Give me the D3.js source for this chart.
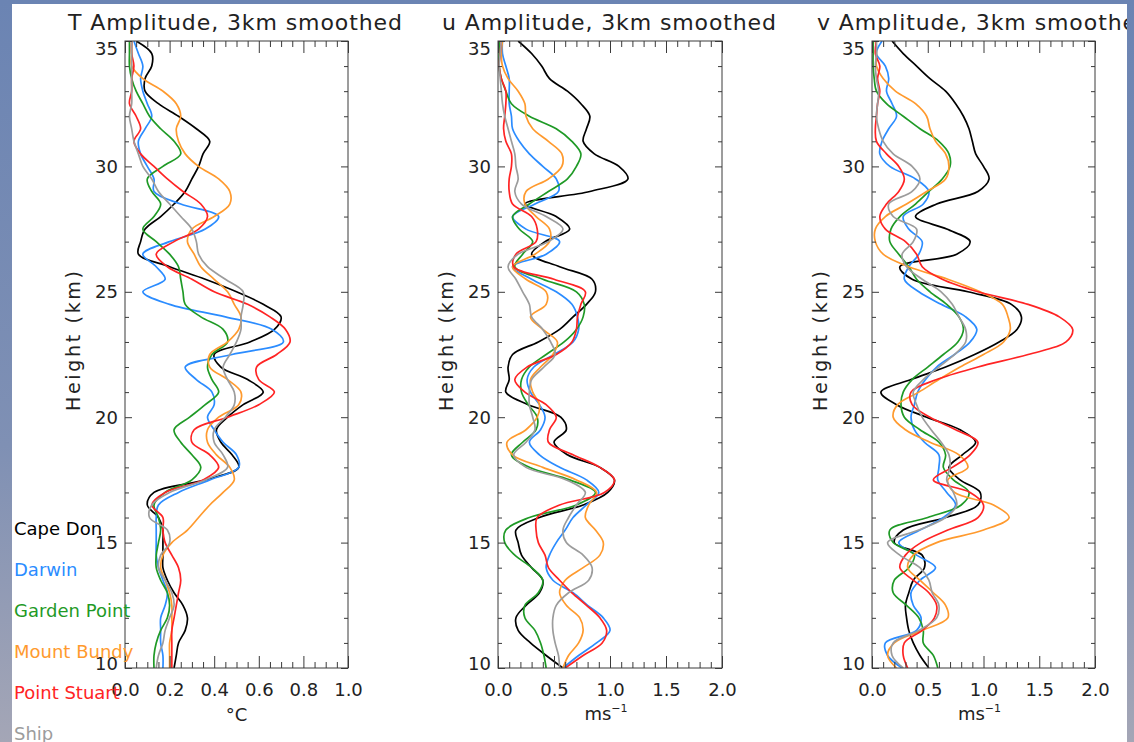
<!DOCTYPE html>
<html><head><meta charset="utf-8">
<script src="https://cdn.jsdelivr.net/npm/d3@7"></script>
<style>html,body{margin:0;padding:0;background:#7088b4;} svg{display:block}</style>
</head><body><svg id="c" width="1134" height="742"></svg>
<script>
// ---------------- DATA ----------------
const heights = [35,34.5,34,33.5,33,32.5,32,31.5,31,30.5,30,29.5,29,28.5,28,27.5,27,26.5,26,25.5,25,24.5,24,23.5,23,22.5,22,21.5,21,20.5,20,19.5,19,18.5,18,17.5,17,16.5,16,15.5,15,14.5,14,13.5,13,12.5,12,11.5,11,10.5,10];
const stations = ["Cape Don","Darwin","Garden Point","Mount Bundy","Point Stuart","Ship"];
const stationColors = ["#000000","#2b8cff","#1f9a26","#ff9a2e","#ff2424","#9c9c9c"];

// T amplitude (°C)
const tCapeDon     = [.05,.12,.12,.09,.09, .15,.24,.32,.38,.35, .33,.30,.27,.22,.16, .09,.07,.06,.20,.36, .50,.62,.70,.67,.56, .40,.43,.55,.62,.53, .46,.41,.43,.48,.51, .36,.13,.10,.15,.17, .17,.17,.17,.19,.22, .26,.28,.27,.24,.23, .22];
const tDarwin      = [.04,.06,.08,.07,.08, .10,.12,.09,.06,.07, .10,.13,.13,.25,.42, .36,.20,.08,.14,.18, .08,.20,.45,.66,.71, .48,.27,.32,.39,.40, .37,.40,.44,.50,.51, .38,.24,.15,.14,.14, .14,.14,.15,.17,.19, .18,.16,.16,.16,.17, .17];
const tGardenPoint = [.02,.02,.02,.03,.05, .08,.11,.16,.22,.25, .17,.10,.12,.16,.13, .08,.14,.20,.24,.25, .26,.27,.34,.44,.46, .39,.37,.39,.42,.36, .29,.22,.25,.30,.34, .30,.18,.13,.15,.16, .15,.14,.14,.16,.19, .20,.19,.16,.14,.13, .13];
const tMountBundy  = [.03,.03,.03,.08,.17, .23,.25,.23,.24,.27, .33,.42,.47,.47,.40, .30,.28,.31,.34,.40, .46,.49,.52,.51,.46, .38,.38,.46,.52,.51, .42,.37,.37,.41,.47, .49,.44,.38,.33,.28, .21,.17,.16,.18,.20, .21,.21,.21,.20,.20, .20];
const tPointStuart = [.03,.03,.04,.03,.03, .02,.05,.07,.04,.07, .13,.19,.26,.34,.37, .33,.22,.14,.19,.30, .40,.55,.65,.72,.74, .68,.59,.60,.67,.60, .46,.31,.30,.38,.42, .35,.18,.12,.17,.17, .18,.21,.24,.25,.24, .23,.22,.21,.21,.21, .21];
const tShip        = [.03,.03,.03,.03,.03, .03,.02,.03,.04,.06, .08,.12,.15,.20,.25, .30,.32,.33,.37,.45, .53,.53,.52,.52,.50, .47,.44,.46,.49,.49, .45,.40,.40,.44,.46, .36,.20,.12,.11,.19, .20,.16,.15,.18,.21, .22,.20,.18,.17,.15, .14];

// u amplitude (m/s)
const uCapeDon     = [.18,.30,.39,.46,.62, .74,.82,.79,.76,.86, 1.08,1.16,.82,.24,.52, .64,.42,.30,.55,.84, .87,.79,.67,.55,.36, .13,.09,.10,.07,.27, .56,.61,.50,.62,.91, 1.04,.98,.76,.37,.16, .18,.21,.30,.40,.37, .25,.16,.18,.29,.43, .58];
const uDarwin      = [.04,.04,.07,.10,.10, .10,.12,.13,.19,.28, .40,.52,.54,.33,.13, .25,.55,.43,.13,.30, .52,.66,.71,.72,.67, .50,.32,.26,.29,.37, .42,.38,.28,.37,.55, .79,.90,.79,.67,.60, .52,.46,.43,.49,.67, .80,.94,1.00,.88,.72, .58];
const uGardenPoint = [.01,.01,.01,.03,.07, .12,.28,.52,.66,.74, .70,.62,.45,.28,.13, .19,.31,.22,.15,.40, .70,.77,.76,.70,.59, .43,.28,.21,.21,.27, .35,.34,.22,.12,.28, .64,.87,.70,.28,.07, .06,.15,.30,.40,.36, .24,.24,.33,.38,.41, .43];
const uMountBundy  = [.04,.03,.04,.09,.18, .24,.25,.31,.45,.57, .57,.45,.25,.24,.34, .46,.46,.33,.13,.25, .43,.43,.29,.40,.53, .49,.38,.29,.31,.37, .35,.25,.08,.13,.40, .70,.88,.81,.78,.87, .94,.91,.76,.60,.55, .61,.73,.76,.72,.63, .58];
const uPointStuart = [.03,.02,.01,.03,.07, .07,.06,.05,.07,.12, .12,.10,.10,.13,.30, .35,.34,.16,.14,.50, .78,.74,.71,.70,.66, .52,.26,.15,.24,.43, .52,.46,.45,.67,.91, 1.04,.95,.55,.35,.34, .36,.42,.45,.55,.66, .79,.91,.97,.93,.76, .60];
const uShip        = [.03,.02,.01,.02,.03, .04,.06,.09,.12,.15, .16,.18,.15,.21,.43, .58,.45,.18,.09,.16, .22,.28,.30,.40,.47, .51,.41,.30,.28,.28, .31,.33,.25,.14,.25, .61,.78,.70,.63,.58, .61,.76,.84,.81,.63, .52,.49,.49,.51,.54, .55];

// v amplitude (m/s)
const vCapeDon     = [.18,.28,.40,.52,.66, .75,.82,.87,.90,.93, 1.00,1.05,.95,.58,.39, .67,.88,.76,.25,.36, .86,1.25,1.34,1.30,1.14, .92,.66,.35,.08,.22, .49,.79,.93,.81,.69, .79,.97,.95,.66,.28, .20,.45,.47,.37,.33, .30,.31,.33,.37,.43, .51];
const vDarwin      = [.09,.04,.12,.15,.13, .18,.22,.15,.09,.07, .16,.39,.51,.46,.28, .33,.45,.42,.33,.29, .42,.62,.84,.94,.88, .74,.58,.48,.41,.38, .35,.38,.47,.60,.60, .59,.67,.75,.64,.43, .24,.40,.57,.43,.35, .37,.44,.40,.12,.14, .27];
const vGardenPoint = [.01,.01,.01,.02,.04, .13,.28,.43,.60,.69, .70,.63,.51,.39,.25, .17,.16,.24,.33,.40, .52,.67,.78,.82,.77, .64,.50,.36,.28,.26, .29,.43,.60,.66,.64, .73,.87,.80,.50,.16, .19,.38,.33,.20,.19, .31,.42,.46,.46,.55, .59];
const vMountBundy  = [.03,.04,.04,.10,.21, .39,.49,.52,.57,.66, .69,.66,.49,.31,.12, .03,.03,.10,.33,.68, .97,1.17,1.22,1.24,1.18, 1.00,.79,.60,.42,.23, .19,.30,.52,.78,.86, .68,.74,1.09,1.23,1.00, .58,.37,.32,.43,.55, .66,.68,.45,.20,.14, .22];
const vPointStuart = [.04,.03,.07,.05,.07, .05,.04,.03,.04,.13, .24,.29,.24,.13,.07, .12,.30,.40,.45,.63, .95,1.40,1.68,1.80,1.74, 1.40,.95,.58,.35,.36, .52,.75,.95,.88,.72, .55,.88,1.00,.95,.68, .44,.30,.25,.37,.51, .58,.56,.45,.29,.28, .32];
const vShip        = [.04,.04,.03,.04,.06, .05,.04,.06,.10,.19, .36,.43,.36,.15,.19, .40,.37,.27,.31,.45, .62,.72,.78,.84,.84, .74,.60,.46,.37,.40, .45,.53,.62,.69,.70, .67,.73,.76,.66,.42, .14,.25,.43,.51,.54, .60,.58,.42,.19,.18, .28];

const panelTitles = ["T Amplitude, 3km smoothed","u Amplitude, 3km smoothed","v Amplitude, 3km smoothed"];
const tTicks = [0.0,0.2,0.4,0.6,0.8,1.0];
const windTicks = [0.0,0.5,1.0,1.5,2.0];
const heightTicks = [10,15,20,25,30,35];
const heightLabel = "Height (km)";

// ---------------- DRAW ----------------
const W = 1134, H = 742;
const svg = d3.select("#c");
const defs = svg.append("defs");
const grad = defs.append("linearGradient").attr("id","bg").attr("x1",0).attr("y1",0).attr("x2",0).attr("y2",1);
grad.append("stop").attr("offset","0%").attr("stop-color","#6b84b3");
grad.append("stop").attr("offset","60%").attr("stop-color","#7f90b4");
grad.append("stop").attr("offset","100%").attr("stop-color","#a4a6b6");
svg.append("rect").attr("width",W).attr("height",H).attr("fill","url(#bg)");

defs.append("clipPath").attr("id","pageclip").append("rect")
  .attr("x",12).attr("y",4).attr("width",1115).attr("height",738);
const page = svg.append("g").attr("clip-path","url(#pageclip)");
page.append("rect").attr("x",12).attr("y",4).attr("width",1115).attr("height",738).attr("fill","#ffffff");

const FONT = "'DejaVu Sans', sans-serif";
const INK = "#222";
const AX = "#3a3a3a";
const plotTop = 41, plotBottom = 668;
const y = d3.scaleLinear().domain([10,35]).range([plotBottom, plotTop]);

const panels = [
  {title: panelTitles[0], titleX: 68,  left: 125, right: 348, max: 1.0, majors: tTicks,    minorStep: 0.05, unit: "C",  series: [tCapeDon,tDarwin,tGardenPoint,tMountBundy,tPointStuart,tShip]},
  {title: panelTitles[1], titleX: 442, left: 498, right: 722, max: 2.0, majors: windTicks, minorStep: 0.1,  unit: "ms", series: [uCapeDon,uDarwin,uGardenPoint,uMountBundy,uPointStuart,uShip]},
  {title: panelTitles[2], titleX: 817, left: 872, right: 1095, max: 2.0, majors: windTicks, minorStep: 0.1, unit: "ms", series: [vCapeDon,vDarwin,vGardenPoint,vMountBundy,vPointStuart,vShip]}
];

function styleAxis(sel){
  sel.select(".domain").remove();
  sel.selectAll(".tick line").attr("stroke",AX).attr("stroke-width",1);
  sel.selectAll(".tick text").attr("fill",INK).attr("font-family",FONT).attr("font-size",18);
  sel.attr("font-family",FONT).attr("font-size",18);
}

const heightMinors = d3.range(10, 35.5, 1).filter(v => v % 5 !== 0);

panels.forEach((p, i) => {
  const g = page.append("g");
  const x = d3.scaleLinear().domain([0, p.max]).range([p.left, p.right]);
  const nMinor = Math.round(p.max / p.minorStep);
  const xMinors = d3.range(0, nMinor + 1).map(k => +(k * p.minorStep).toFixed(3))
                    .filter(v => !p.majors.some(m => Math.abs(m - v) < 1e-6));

  defs.append("clipPath").attr("id","plotclip"+i).append("rect")
    .attr("x",p.left).attr("y",plotTop).attr("width",p.right-p.left).attr("height",plotBottom-plotTop);

  const line = d3.line()
    .x(d => x(d[1])).y(d => y(d[0]))
    .curve(d3.curveCatmullRom.alpha(0.5));

  const lg = g.append("g").attr("clip-path","url(#plotclip"+i+")");
  p.series.forEach((s, k) => {
    lg.append("path")
      .datum(heights.map((h, j) => [h, s[j]]))
      .attr("d", line)
      .attr("fill","none")
      .attr("stroke", stationColors[k])
      .attr("stroke-width", 1.7)
      .attr("stroke-linejoin","round");
  });

  // frame
  g.append("rect").attr("x",p.left).attr("y",plotTop)
    .attr("width",p.right-p.left).attr("height",plotBottom-plotTop)
    .attr("fill","none").attr("stroke",AX).attr("stroke-width",1);

  // bottom axis
  g.append("g").attr("transform",`translate(0,${plotBottom})`)
    .call(d3.axisBottom(x).tickValues(p.majors).tickSize(-12).tickPadding(15).tickFormat(d3.format(".1f")))
    .call(styleAxis);
  g.append("g").attr("transform",`translate(0,${plotBottom})`)
    .call(d3.axisBottom(x).tickValues(xMinors).tickSize(-6).tickFormat(""))
    .call(styleAxis);
  // top axis
  g.append("g").attr("transform",`translate(0,${plotTop})`)
    .call(d3.axisTop(x).tickValues(p.majors).tickSize(-12).tickFormat(""))
    .call(styleAxis);
  g.append("g").attr("transform",`translate(0,${plotTop})`)
    .call(d3.axisTop(x).tickValues(xMinors).tickSize(-6).tickFormat(""))
    .call(styleAxis);
  // left axis
  const la = g.append("g").attr("transform",`translate(${p.left},0)`)
    .call(d3.axisLeft(y).tickValues(heightTicks).tickSize(-7).tickPadding(7).tickFormat(d3.format("d")))
    .call(styleAxis);
  la.selectAll(".tick text").attr("dy", d => d === 35 ? "0.74em" : (d === 10 ? "0.1em" : "0.34em"));
  g.append("g").attr("transform",`translate(${p.left},0)`)
    .call(d3.axisLeft(y).tickValues(heightMinors).tickSize(-4).tickFormat(""))
    .call(styleAxis);
  // right axis
  g.append("g").attr("transform",`translate(${p.right},0)`)
    .call(d3.axisRight(y).tickValues(heightTicks).tickSize(-7).tickFormat(""))
    .call(styleAxis);
  g.append("g").attr("transform",`translate(${p.right},0)`)
    .call(d3.axisRight(y).tickValues(heightMinors).tickSize(-4).tickFormat(""))
    .call(styleAxis);

  // title
  g.append("text").attr("x",p.titleX).attr("y",30)
    .attr("font-family",FONT).attr("font-size",22).attr("fill",INK)
    .attr("textLength",334).attr("lengthAdjust","spacing")
    .text(p.title);

  // y label
  const cy = 341, cx = p.left - 52;
  g.append("text").attr("transform",`translate(${cx},${cy}) rotate(-90)`)
    .attr("text-anchor","middle").attr("dy","0.35em")
    .attr("font-family",FONT).attr("font-size",19).attr("fill",INK)
    .attr("textLength",140).attr("lengthAdjust","spacing")
    .text(heightLabel);

  // x label
  const mid = (p.left + p.right) / 2;
  if (p.unit === "C") {
    g.append("text").attr("x", mid).attr("y", 721).attr("text-anchor","middle")
      .attr("font-family",FONT).attr("font-size",18).attr("fill",INK).text("\u00B0C");
  } else {
    const t = g.append("text").attr("x", mid - 4).attr("y", 720).attr("text-anchor","middle")
      .attr("font-family",FONT).attr("font-size",18).attr("fill",INK);
    t.append("tspan").text("ms");
    t.append("tspan").attr("font-size",11).attr("dy",-8).text("\u22121");
  }
});

// legend
const legendY = [535, 576, 617, 658, 699, 740];
stations.forEach((s, k) => {
  page.append("text").attr("x",14).attr("y",legendY[k])
    .attr("font-family",FONT).attr("font-size",18).attr("fill",stationColors[k])
    .text(s);
});
</script>
</body></html>
